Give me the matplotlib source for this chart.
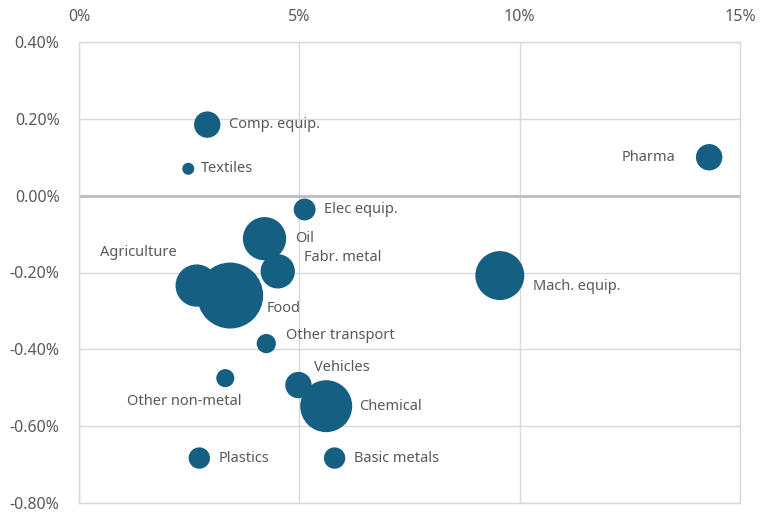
import matplotlib
matplotlib.use("Agg")
import matplotlib.pyplot as plt
from matplotlib.ticker import FuncFormatter, MultipleLocator

# ---- data ----
sectors = ["Comp. equip.", "Textiles", "Pharma", "Elec equip.", "Oil", "Fabr. metal",
           "Agriculture", "Food", "Mach. equip.", "Other transport", "Vehicles",
           "Other non-metal", "Chemical", "Plastics", "Basic metals"]
x_growth = [2.91, 2.48, 14.30, 5.12, 4.21, 4.51, 2.67, 3.43, 9.55, 4.25, 4.98,
            3.32, 5.61, 2.73, 5.80]            # %
y_change = [0.185, 0.070, 0.100, -0.036, -0.112, -0.197, -0.234, -0.260, -0.208,
            -0.385, -0.493, -0.475, -0.548, -0.683, -0.683]   # %
bubble_size = [16, 3.3, 16, 11, 43, 27, 41, 100, 55, 8.5, 16, 7.5, 62, 10.5, 10.5]

x_ticks = [0, 5, 10, 15]
y_ticks = [-0.8, -0.6, -0.4, -0.2, 0.0, 0.2, 0.4]

# label placement (offset in points, alignment)
label_style = {
    "Comp. equip.": (16, 0, "left"),
    "Textiles": (9, 0, "left"),
    "Pharma": (-24, 0, "right"),
    "Elec equip.": (14, 0, "left"),
    "Oil": (22, 0, "left"),
    "Fabr. metal": (19, 10, "left"),
    "Agriculture": (-14, 24, "right"),
    "Food": (26, -9, "left"),
    "Mach. equip.": (24, -8, "left"),
    "Other transport": (14, 6, "left"),
    "Vehicles": (11, 13, "left"),
    "Other non-metal": (12, -17, "right"),
    "Chemical": (24, 0, "left"),
    "Plastics": (14, 0, "left"),
    "Basic metals": (14, 0, "left"),
}

plt.rcParams['font.family'] = ['Noto Sans', 'DejaVu Sans']

fig = plt.figure(figsize=(7.68, 5.20), dpi=100)
ax = fig.add_axes([79/768, 1-503/520, (740-79)/768, (503-42)/520])

TEXT = "#595959"
GRID = "#D9D9D9"
BUB = "#156082"

scale = 2258 / 100.0
ax.scatter(x_growth, y_change, s=[b*scale for b in bubble_size], color=BUB,
           linewidths=0, zorder=3)

for name, xv, yv in zip(sectors, x_growth, y_change):
    dx, dy, ha = label_style[name]
    ax.annotate(name, (xv, yv), xytext=(dx, dy), textcoords="offset points",
                ha=ha, va="center", fontsize=10.5, color=TEXT, zorder=4)

ax.set_xlim(0, 15)
ax.set_ylim(-0.8, 0.4)
ax.set_xticks(x_ticks)
ax.set_yticks(y_ticks)
ax.xaxis.set_major_formatter(FuncFormatter(lambda v, p: f"{v:.0f}%"))
ax.yaxis.set_major_formatter(FuncFormatter(lambda v, p: f"{v:.2f}%"))
ax.xaxis.tick_top()
ax.tick_params(axis="both", length=0, colors=TEXT, labelsize=11.5)
ax.tick_params(axis="x", pad=12)
ax.tick_params(axis="y", pad=14)

ax.grid(True, color=GRID, linewidth=1.0, zorder=0)
ax.set_axisbelow(True)
for sp in ax.spines.values():
    sp.set_color(GRID)
    sp.set_linewidth(1.0)
ax.axhline(0, color="#BFBFBF", linewidth=2.2, zorder=1)

fig.savefig("out.png", dpi=100, facecolor="white")
